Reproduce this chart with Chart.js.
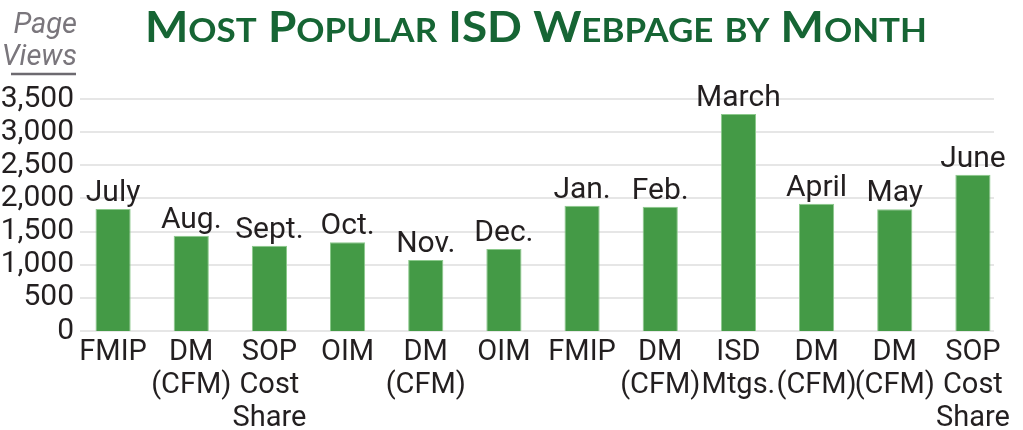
<!DOCTYPE html>
<html>
<head>
<meta charset="utf-8">
<script src="https://cdn.jsdelivr.net/npm/chart.js@4/dist/chart.umd.min.js"></script>
<style>
    body { margin: 0; background: #ffffff; }
    #wrap { position: relative; width: 1023px; height: 430px; }
</style>
</head>
<body>
<div id="wrap"><canvas id="viewsChart" width="1023" height="430"></canvas></div>
<script>
// Chart data
const months = ['July', 'Aug.', 'Sept.', 'Oct.', 'Nov.', 'Dec.', 'Jan.', 'Feb.', 'March', 'April', 'May', 'June'];
const pages = [
    ['FMIP'], ['DM', '(CFM)'], ['SOP', 'Cost', 'Share'], ['OIM'], ['DM', '(CFM)'], ['OIM'],
    ['FMIP'], ['DM', '(CFM)'], ['ISD', 'Mtgs.'], ['DM', '(CFM)'], ['DM', '(CFM)'], ['SOP', 'Cost', 'Share']
];
const pageViews = [1840, 1437, 1287, 1338, 1071, 1237, 1890, 1875, 3273, 1920, 1835, 2357];
const yTicks = [0, 500, 1000, 1500, 2000, 2500, 3000, 3500];

const titleText = 'Most Popular ISD Webpage by Month';
const axisTitleLines = ['Page', 'Views'];

const labelFont = "Roboto, 'Liberation Sans', sans-serif";
const textColor = '#231f20';
const gridColor = '#e6e6e6';

// Gridlines drawn a little inset, like the original
const gridPlugin = {
    id: 'insetGrid',
    beforeDatasetsDraw(chart) {
        const { ctx, chartArea, scales } = chart;
        ctx.save();
        ctx.strokeStyle = gridColor;
        ctx.lineWidth = 2;
        yTicks.forEach(v => {
            const y = Math.round(scales.y.getPixelForValue(v));
            ctx.beginPath();
            ctx.moveTo(chartArea.left + 6, y);
            ctx.lineTo(chartArea.right - 18, y);
            ctx.stroke();
        });
        ctx.restore();
    }
};

// Month names above each bar
const monthLabels = {
    id: 'monthLabels',
    afterDatasetsDraw(chart) {
        const { ctx } = chart;
        const bars = chart.getDatasetMeta(0).data;
        ctx.save();
        ctx.font = '30px ' + labelFont;
        ctx.fillStyle = textColor;
        ctx.textAlign = 'center';
        ctx.textBaseline = 'alphabetic';
        bars.forEach((bar, i) => {
            ctx.fillText(months[i], bar.x, bar.y - 8);
        });
        ctx.restore();
    }
};

// Small-caps title and the "Page Views" axis title
const headings = {
    id: 'headings',
    afterDraw(chart) {
        const { ctx } = chart;
        ctx.save();
        ctx.letterSpacing = '0px';

        // split title into runs of capitals / lower case
        const runs = [];
        for (const ch of titleText) {
            const small = ch !== ch.toUpperCase();
            const last = runs[runs.length - 1];
            if (last && last.small === small) last.text += ch;
            else runs.push({ small, text: ch });
        }
        const bigFont = 'bold 42px Lato, sans-serif';
        const smallFont = 'bold 32px Lato, sans-serif';
        let total = 0;
        runs.forEach(r => {
            ctx.font = r.small ? smallFont : bigFont;
            r.w = ctx.measureText(r.text.toUpperCase()).width;
            total += r.w;
        });
        const sx = 782 / total;
        ctx.translate(145, 42);
        ctx.scale(sx, 1);
        ctx.fillStyle = '#166534';
        ctx.textBaseline = 'alphabetic';
        let x = 0;
        runs.forEach(r => {
            ctx.font = r.small ? smallFont : bigFont;
            ctx.fillText(r.text.toUpperCase(), x, 0);
            x += r.w;
        });
        ctx.restore();

        ctx.save();
        ctx.font = 'italic 29px ' + labelFont;
        ctx.fillStyle = '#7a767c';
        ctx.textAlign = 'right';
        ctx.fillText(axisTitleLines[0], 77, 33);
        ctx.fillText(axisTitleLines[1], 77, 65);
        ctx.strokeStyle = '#6d6a70';
        ctx.lineWidth = 2.5;
        ctx.beginPath();
        ctx.moveTo(11, 74);
        ctx.lineTo(76, 74);
        ctx.stroke();
        ctx.restore();
    }
};

const ctx = document.getElementById('viewsChart');
// slightly tighter letters to get closer to the condensed face of the original
ctx.getContext('2d').letterSpacing = '-1px';

new Chart(ctx, {
    type: 'bar',
    data: {
        labels: pages,
        datasets: [{
            label: 'Page Views',
            data: pageViews,
            backgroundColor: '#449a46',
            borderColor: '#8cc98c',
            borderWidth: 1,
            barPercentage: 0.45,
            categoryPercentage: 1
        }]
    },
    options: {
        responsive: false,
        animation: false,
        layout: {
            padding: { top: 99, right: 11, left: 0, bottom: 0 }
        },
        plugins: {
            legend: { display: false },
            title: { display: false },
            tooltip: { enabled: false }
        },
        scales: {
            x: {
                grid: { display: false, drawTicks: false },
                border: { display: false },
                ticks: {
                    color: textColor,
                    font: { family: labelFont, size: 29, lineHeight: 1.14 },
                    padding: 5,
                    maxRotation: 0,
                    autoSkip: false
                },
                afterFit: (scale) => { scale.height = 99; }
            },
            y: {
                min: 0,
                max: 3500,
                grid: { display: false, drawTicks: false },
                border: { display: false },
                ticks: {
                    stepSize: 500,
                    autoSkip: false,
                    color: textColor,
                    padding: 0,
                    font: { family: labelFont, size: 30, lineHeight: 1 },
                    callback: (v) => v.toLocaleString('en-US')
                },
                afterFit: (scale) => { scale.width = 74; }
            }
        }
    },
    plugins: [gridPlugin, monthLabels, headings]
});
</script>
</body>
</html>
